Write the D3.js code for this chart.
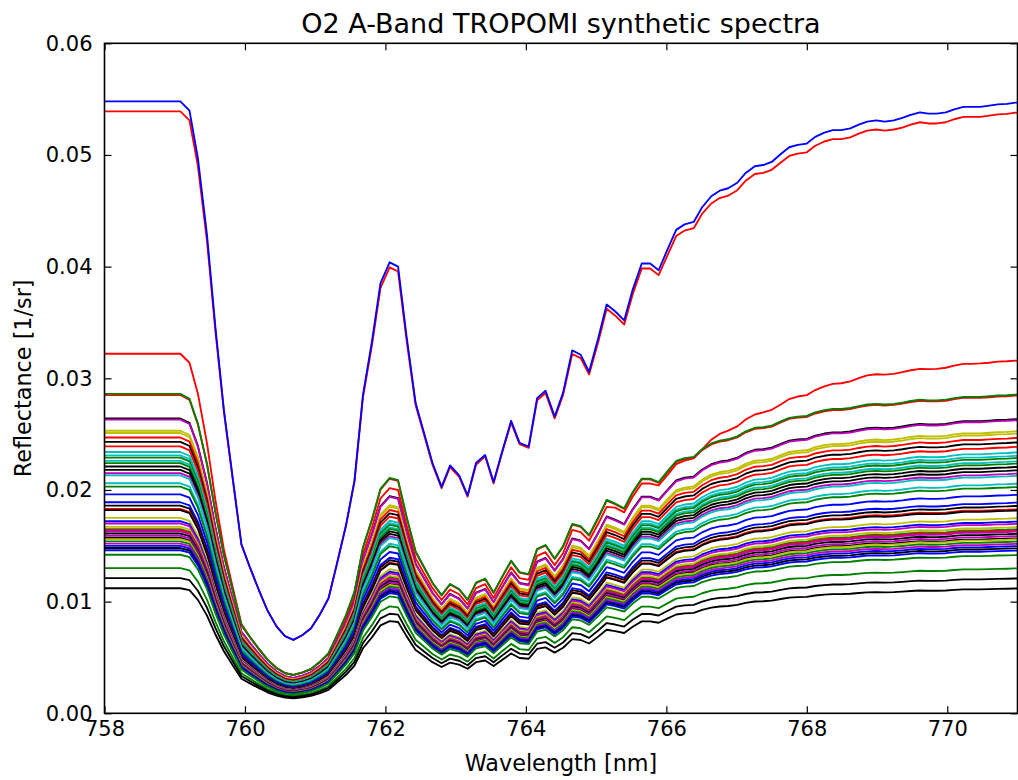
<!DOCTYPE html>
<html>
<head>
<meta charset="utf-8">
<script src="https://cdn.jsdelivr.net/npm/d3@7"></script>
<style>
body { margin: 0; background: #fff; }
text { font-family: "DejaVu Sans", sans-serif; fill: #000; }
</style>
</head>
<body>
<svg id="chart" width="1018" height="780"></svg>
<script>
// wavelength grid of the synthetic spectra [nm]
var wavelengths = [757.97, 758.09, 758.22, 758.34, 758.47, 758.59, 758.71, 758.84, 758.96, 759.08,
  759.21, 759.33, 759.46, 759.58, 759.70, 759.83, 759.95, 760.07, 760.20, 760.32,
  760.45, 760.57, 760.69, 760.82, 760.94, 761.07, 761.19, 761.31, 761.44, 761.56,
  761.68, 761.81, 761.93, 762.06, 762.18, 762.30, 762.43, 762.55, 762.67, 762.80,
  762.92, 763.05, 763.17, 763.29, 763.42, 763.54, 763.66, 763.79, 763.91, 764.04,
  764.16, 764.28, 764.41, 764.53, 764.66, 764.78, 764.90, 765.03, 765.15, 765.27,
  765.40, 765.52, 765.65, 765.77, 765.89, 766.02, 766.14, 766.26, 766.39, 766.51,
  766.64, 766.76, 766.88, 767.01, 767.13, 767.26, 767.38, 767.50, 767.63, 767.75,
  767.87, 768.00, 768.12, 768.25, 768.37, 768.49, 768.62, 768.74, 768.86, 768.99,
  769.11, 769.24, 769.36, 769.48, 769.61, 769.73, 769.85, 769.98, 770.10, 770.23,
  770.35, 770.47, 770.60, 770.72, 770.85, 770.97, 771.09];

// O2 A-band shapes, reflectance relative to the continuum at 758 nm
// most spectra follow "main"
var mainShape = [1.000, 1.000, 1.000, 1.000, 1.000, 1.000, 1.000, 1.000, 1.000, 1.000,
  0.985, 0.907, 0.781, 0.630, 0.496, 0.381, 0.276, 0.239, 0.201, 0.168,
  0.142, 0.126, 0.120, 0.128, 0.139, 0.162, 0.188, 0.245, 0.308, 0.381,
  0.520, 0.609, 0.703, 0.737, 0.730, 0.617, 0.507, 0.458, 0.409, 0.370,
  0.405, 0.389, 0.356, 0.409, 0.422, 0.378, 0.427, 0.478, 0.442, 0.436,
  0.515, 0.527, 0.485, 0.524, 0.593, 0.586, 0.558, 0.613, 0.668, 0.657,
  0.642, 0.692, 0.735, 0.735, 0.724, 0.759, 0.790, 0.799, 0.803, 0.827,
  0.845, 0.854, 0.858, 0.867, 0.883, 0.894, 0.896, 0.901, 0.914, 0.925,
  0.929, 0.931, 0.942, 0.949, 0.953, 0.953, 0.956, 0.962, 0.967, 0.969,
  0.967, 0.969, 0.973, 0.978, 0.982, 0.980, 0.980, 0.982, 0.987, 0.991,
  0.991, 0.991, 0.993, 0.995, 0.996, 0.998, 0.998];
// the brightest of the lower spectra (red) has deeper absorption
var deepShape = [1.000, 1.000, 1.000, 1.000, 1.000, 1.000, 1.000, 1.000, 1.000, 1.000,
  0.975, 0.889, 0.750, 0.592, 0.456, 0.347, 0.248, 0.213, 0.179, 0.150,
  0.126, 0.112, 0.107, 0.114, 0.122, 0.143, 0.164, 0.211, 0.265, 0.324,
  0.442, 0.518, 0.598, 0.626, 0.621, 0.524, 0.431, 0.389, 0.348, 0.315,
  0.344, 0.331, 0.303, 0.348, 0.359, 0.321, 0.363, 0.406, 0.376, 0.371,
  0.438, 0.448, 0.412, 0.445, 0.510, 0.504, 0.480, 0.527, 0.574, 0.572,
  0.559, 0.602, 0.639, 0.639, 0.634, 0.664, 0.693, 0.703, 0.709, 0.734,
  0.761, 0.777, 0.786, 0.798, 0.817, 0.831, 0.837, 0.844, 0.859, 0.874,
  0.881, 0.885, 0.899, 0.909, 0.916, 0.918, 0.923, 0.932, 0.940, 0.943,
  0.942, 0.944, 0.949, 0.954, 0.958, 0.957, 0.958, 0.961, 0.967, 0.972,
  0.972, 0.973, 0.975, 0.978, 0.979, 0.981, 0.981];
// the bright red spectrum sits just under the blue one inside the band
var shallowShape = [1.000, 1.000, 1.000, 1.000, 1.000, 1.000, 1.000, 1.000, 1.000, 1.000,
  0.985, 0.909, 0.784, 0.634, 0.501, 0.385, 0.280, 0.242, 0.204, 0.171,
  0.144, 0.128, 0.122, 0.130, 0.141, 0.165, 0.191, 0.248, 0.312, 0.385,
  0.525, 0.613, 0.707, 0.741, 0.734, 0.621, 0.512, 0.463, 0.413, 0.374,
  0.409, 0.393, 0.360, 0.413, 0.427, 0.382, 0.432, 0.483, 0.447, 0.441,
  0.520, 0.532, 0.490, 0.529, 0.597, 0.590, 0.563, 0.617, 0.672, 0.661,
  0.646, 0.696, 0.739, 0.739, 0.728, 0.762, 0.793, 0.802, 0.806, 0.830,
  0.847, 0.856, 0.860, 0.869, 0.885, 0.896, 0.898, 0.903, 0.915, 0.926,
  0.930, 0.932, 0.943, 0.950, 0.954, 0.954, 0.957, 0.963, 0.968, 0.970,
  0.968, 0.970, 0.973, 0.978, 0.982, 0.980, 0.980, 0.982, 0.987, 0.991,
  0.991, 0.991, 0.993, 0.995, 0.996, 0.998, 0.998];

// continuum reflectance of each spectrum [1/sr], its shape and its line colour
var spectraLevels = [0.0322, 0.0285, 0.0286, 0.0264, 0.0263, 0.0253, 0.0251, 0.0247, 0.0243, 0.0239,
  0.0234, 0.0231, 0.0229, 0.0226, 0.0224, 0.0221, 0.0218, 0.0215, 0.0213, 0.0206,
  0.0203, 0.0196, 0.0189, 0.0186, 0.0183, 0.0182, 0.0175, 0.0172, 0.0170, 0.0167,
  0.0165, 0.0164, 0.0163, 0.0161, 0.0159, 0.0157, 0.0156, 0.0154, 0.0152, 0.0150,
  0.0148, 0.0146, 0.0142, 0.0130, 0.0121, 0.0112, 0.0539, 0.0548];
var spectraShapes = ["deep", "main", "main", "main", "main", "main", "main", "main", "main", "main",
  "main", "main", "main", "main", "main", "main", "main", "main", "main", "main",
  "main", "main", "main", "main", "main", "main", "main", "main", "main", "main",
  "main", "main", "main", "main", "main", "main", "main", "main", "main", "main",
  "main", "main", "main", "main", "main", "main", "shallow", "main"];
var spectraColors = ["r", "r", "g", "k", "m", "y", "y", "r", "k", "r",
  "c", "c", "g", "c", "g", "k", "k", "m", "c", "c",
  "g", "b", "b", "k", "r", "k", "y", "b", "m", "y",
  "g", "r", "m", "k", "m", "k", "y", "g", "m", "b",
  "k", "b", "g", "g", "k", "k", "r", "b"];

var xTicks = [758, 760, 762, 764, 766, 768, 770];
var yTicks = [0.00, 0.01, 0.02, 0.03, 0.04, 0.05, 0.06];

var shapes = {main: mainShape, deep: deepShape, shallow: shallowShape};
var palette = {b: "#0000ff", g: "#008000", r: "#ff0000", c: "#00bfbf", m: "#bf00bf", y: "#bfbf00", k: "#000000"};

var margin = {top: 43.3, right: 0.5, bottom: 66.7, left: 104.5},
  width = 1018 - margin.left - margin.right,
  height = 780 - margin.top - margin.bottom;

var svg = d3.select("#chart");

var x = d3.scaleLinear().domain([758, 771]).range([0, width]);
var y = d3.scaleLinear().domain([0, 0.06]).range([height, 0]);

var g = svg.append("g")
  .attr("transform", "translate(" + margin.left + "," + margin.top + ")");

g.append("clipPath").attr("id", "plotclip")
  .append("rect").attr("width", width).attr("height", height);

var line = d3.line()
  .x(function(d, i) { return x(wavelengths[i]); })
  .y(function(d) { return y(d); });

var spectra = spectraLevels.map(function(lv, i) {
  var shape = shapes[spectraShapes[i]];
  return {color: palette[spectraColors[i]], values: shape.map(function(s) { return lv * s; })};
});

g.append("g").attr("clip-path", "url(#plotclip)")
  .selectAll("path")
  .data(spectra)
  .enter().append("path")
    .attr("d", function(d) { return line(d.values); })
    .attr("fill", "none")
    .attr("stroke", function(d) { return d.color; })
    .attr("stroke-width", 1.85)
    .attr("stroke-linejoin", "round");

// axes, ticks pointing inwards on all four sides
var xAxis = d3.axisBottom(x).tickValues(xTicks).tickFormat(d3.format("d"))
  .tickSizeInner(-7).tickSizeOuter(0).tickPadding(8);
var yAxis = d3.axisLeft(y).tickValues(yTicks).tickFormat(d3.format(".2f"))
  .tickSizeInner(-7).tickSizeOuter(0).tickPadding(12);

g.append("g").attr("class", "axis")
  .attr("transform", "translate(0," + height + ")")
  .call(xAxis);
g.append("g").attr("class", "axis")
  .call(d3.axisTop(x).tickValues(xTicks).tickFormat("").tickSizeInner(-7).tickSizeOuter(0));
g.append("g").attr("class", "axis")
  .call(yAxis);
g.append("g").attr("class", "axis")
  .attr("transform", "translate(" + width + ",0)")
  .call(d3.axisRight(y).tickValues(yTicks).tickFormat("").tickSizeInner(-7).tickSizeOuter(0));

g.selectAll(".axis .domain").remove();
g.selectAll(".axis line").attr("stroke", "#000").attr("stroke-width", 1.2);
g.selectAll(".axis text")
  .style("font-family", "'DejaVu Sans', sans-serif")
  .style("font-size", "21px")
  .attr("fill", "#000");

g.append("rect")
  .attr("width", width).attr("height", height)
  .attr("fill", "none").attr("stroke", "#000").attr("stroke-width", 1.6);

// labels
svg.append("text")
  .attr("x", margin.left + width / 2).attr("y", 33)
  .attr("text-anchor", "middle")
  .style("font-size", "27px")
  .text("O2 A-Band TROPOMI synthetic spectra");

svg.append("text")
  .attr("x", margin.left + width / 2).attr("y", 771)
  .attr("text-anchor", "middle")
  .style("font-size", "22.3px")
  .text("Wavelength [nm]");

svg.append("text")
  .attr("transform", "translate(31," + (margin.top + height / 2) + ") rotate(-90)")
  .attr("text-anchor", "middle")
  .style("font-size", "22.3px")
  .text("Reflectance [1/sr]");
</script>
</body>
</html>
